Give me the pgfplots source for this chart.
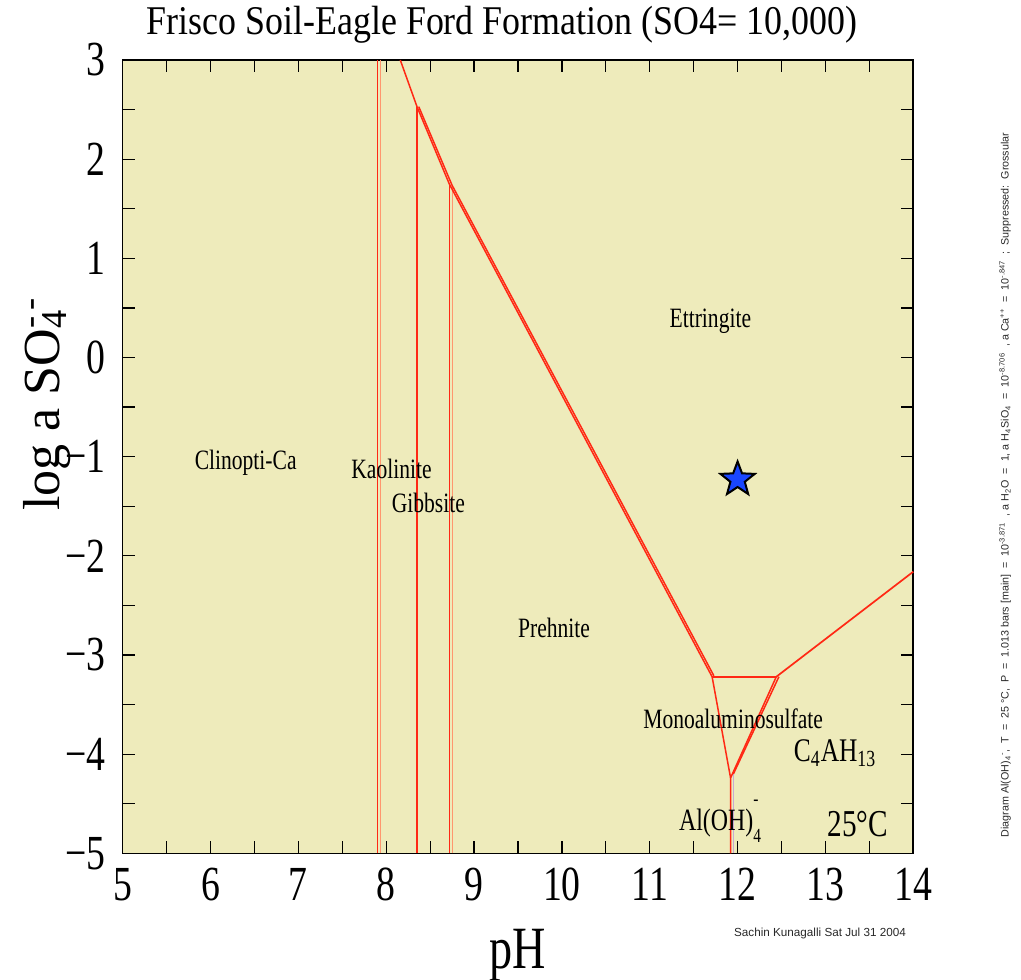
\documentclass[border=0pt]{standalone}
\usepackage{fontspec}
\setmainfont{Liberation Serif}
\newfontfamily\cond[FakeStretch=0.77]{Liberation Serif}
\newfontfamily\tfont[FakeStretch=0.88]{Liberation Serif}
\newfontfamily\sans{Liberation Sans}
\usepackage{pgfplots}
\pgfplotsset{compat=1.18}
\definecolor{bgc}{RGB}{238,235,187}
\definecolor{lred}{RGB}{255,40,20}
\definecolor{lorange}{RGB}{255,150,110}
\definecolor{llilac}{RGB}{200,170,210}
\definecolor{starblue}{RGB}{25,70,255}
\definecolor{credit}{RGB}{40,40,40}
\pgfdeclareplotmark{fstar}{%
  \pgfpathmoveto{\pgfpointpolar{90}{\pgfplotmarksize}}%
  \pgfpathlineto{\pgfpointpolar{126}{0.42\pgfplotmarksize}}%
  \pgfpathlineto{\pgfpointpolar{162}{\pgfplotmarksize}}%
  \pgfpathlineto{\pgfpointpolar{198}{0.42\pgfplotmarksize}}%
  \pgfpathlineto{\pgfpointpolar{234}{\pgfplotmarksize}}%
  \pgfpathlineto{\pgfpointpolar{270}{0.42\pgfplotmarksize}}%
  \pgfpathlineto{\pgfpointpolar{306}{\pgfplotmarksize}}%
  \pgfpathlineto{\pgfpointpolar{342}{0.42\pgfplotmarksize}}%
  \pgfpathlineto{\pgfpointpolar{18}{\pgfplotmarksize}}%
  \pgfpathlineto{\pgfpointpolar{54}{0.42\pgfplotmarksize}}%
  \pgfpathclose
  \pgfusepathqfillstroke}
\begin{document}
\begin{tikzpicture}[
 sgl/.style={draw=lred, line width=0.75pt},
 sgo/.style={draw=lorange, line width=0.7pt},
 lab/.style={font=\cond\fontsize{14}{14}\selectfont, text=black},
]
\useasboundingbox (-61.35pt,-62.85pt) rectangle (449.15pt,426.65pt);
\begin{axis}[
 at={(0,0)}, anchor=south west,
 scale only axis, width=395.3pt, height=396.65pt,
 xmin=5, xmax=14, ymin=-5, ymax=3,
 xtick={5,...,14}, ytick={-5,...,3},
 xticklabels={5,6,7,8,9,10,11,12,13,14},
 yticklabels={−5,−4,−3,−2,−1,0,1,2,3},
 minor x tick num=1, minor y tick num=1,
 tick align=inside, major tick length=6pt, minor tick length=6pt,
 tick style={black, line width=0.6pt},
 axis line style={black, line width=0.8pt},
 axis background/.style={fill=bgc},
 ticklabel style={font=\cond\fontsize{24.5}{24.5}\selectfont},
 xticklabel shift=4pt, yticklabel shift=5pt,
 clip=false,
]
% Clinoptilolite / Kaolinite boundary (double)
\addplot[sgo] coordinates {(7.937,-5) (7.937,3)};
\addplot[sgl] coordinates {(7.903,-5) (7.903,3)};
% Kaolinite / Gibbsite
\addplot[sgl] coordinates {(8.35,-5) (8.35,2.53)};
% Gibbsite / Prehnite (double)
\addplot[sgo] coordinates {(8.752,-5) (8.752,1.74)};
\addplot[sgl] coordinates {(8.718,-5) (8.718,1.75)};
% Ettringite boundary
\addplot[sgl] coordinates {(8.16,3) (8.35,2.53) (8.718,1.75) (11.71,-3.22)};
\addplot[sgl] coordinates {(8.37,2.53) (8.748,1.74) (11.73,-3.21)};
% triangle
\addplot[sgl] coordinates {(11.71,-3.22) (12.44,-3.22)};
\addplot[sgl] coordinates {(11.71,-3.22) (11.92,-4.24)};
\addplot[draw=llilac, line width=0.7pt] coordinates {(11.952,-4.2) (11.952,-5)};
\addplot[sgl] coordinates {(12.44,-3.22) (11.92,-4.24) (11.92,-5)};
\addplot[sgl] coordinates {(12.47,-3.22) (11.952,-4.2)};
\addplot[sgl, line width=0.85pt] coordinates {(12.44,-3.22) (14,-2.16)};
% sample point
\addplot[only marks, mark=fstar, mark size=9pt, mark options={fill=starblue, draw=black, line width=1pt}] coordinates {(12.0,-1.23)};
\node[lab] at (axis cs:6.40,-1.06) {Clinopti-Ca};
\node[lab] at (axis cs:8.06,-1.12) {Kaolinite};
\node[lab] at (axis cs:8.48,-1.47) {Gibbsite};
\node[lab] at (axis cs:11.69,0.37) {Ettringite};
\node[lab] at (axis cs:9.91,-2.73) {Prehnite};
\node[lab] at (axis cs:11.95,-3.64) {Monoaluminosulfate};
\node[lab, font=\cond\fontsize{16.5}{16.5}\selectfont] at (axis cs:13.11,-3.99) {C\textsubscript{4}AH\textsubscript{13}};
\node[lab, font=\cond\fontsize{15.5}{15.5}\selectfont] at (axis cs:11.80,-4.68) {Al(OH)\rlap{\raisebox{0.8em}{\fontsize{10}{10}\selectfont -}}\raisebox{-0.4em}{\fontsize{10}{10}\selectfont 4}};
\node[lab, font=\cond\fontsize{19}{19}\selectfont] at (axis cs:13.37,-4.70) {25°C};
\end{axis}
\node[font=\tfont\fontsize{20.4}{20.4}\selectfont] at (189.65pt,414.15pt) {Frisco Soil-Eagle Ford Formation (SO4= 10,000)};
\node[rotate=90, font=\fontsize{26}{26}\selectfont] at (-37.85pt,224.65pt) {log a SO\rlap{\textsubscript{4}}\textsuperscript{-\,-}};
\node[font=\cond\fontsize{30}{30}\selectfont] at (197.65pt,-50.85pt) {pH};
\node[rotate=90, font=\sans\fontsize{5.36}{5.36}\selectfont, text=credit] at (441.15pt,184.15pt) {Diagram Al(OH)\textsubscript{4}\textsuperscript{-},\ \ T\ \ =\ \ 25 °C,\ \ P\ \ =\ \ 1.013 bars [main]\ \ =\ \ 10\textsuperscript{-3.871}\ \ ,\ a H\textsubscript{2}O\ \ =\ \ 1,\ a H\textsubscript{4}SiO\textsubscript{4}\ \ =\ \ 10\textsuperscript{-8.706}\ \ ,\ a Ca\textsuperscript{++}\ \ =\ \ 10\textsuperscript{-.847}\ \ ;\ \ Suppressed:\ \ Grossular};
\node[font=\sans\fontsize{5.85}{5.85}\selectfont, text=credit] at (348.65pt,-39.85pt) {Sachin Kunagalli Sat Jul 31 2004};
\end{tikzpicture}
\end{document}
